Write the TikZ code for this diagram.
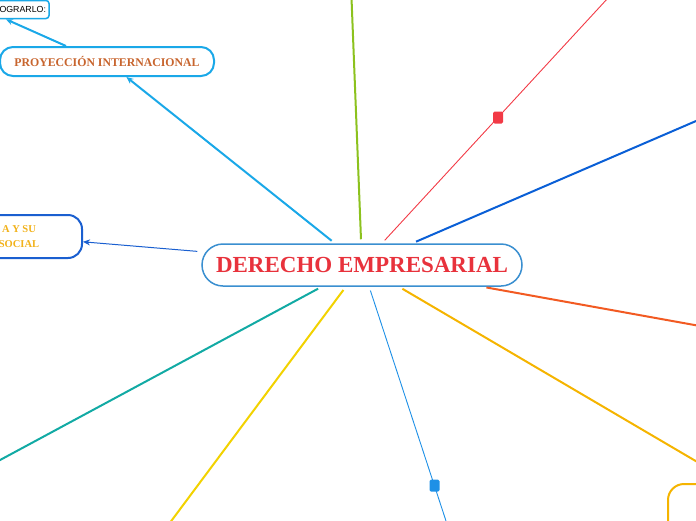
\documentclass[tikz,border=0pt]{standalone}
\usepackage{fontspec}
\setmainfont{Liberation Serif}
\setsansfont{Liberation Sans}
\usetikzlibrary{arrows.meta}
\definecolor{cbord}{HTML}{3A8FD0}
\definecolor{ctext}{HTML}{E8323C}
\definecolor{pblue}{HTML}{1AA8E8}
\definecolor{ptext}{HTML}{C8652E}
\definecolor{lblue}{HTML}{1A5FD0}
\definecolor{ltext}{HTML}{F2B21A}
\definecolor{cgreen}{HTML}{8CC21E}
\definecolor{cred}{HTML}{F23A46}
\definecolor{cdblue}{HTML}{0A5FD6}
\definecolor{corange}{HTML}{F25A22}
\definecolor{cyorange}{HTML}{F5B400}
\definecolor{clblue}{HTML}{1E90E6}
\definecolor{cyellow}{HTML}{F2D200}
\definecolor{cteal}{HTML}{12AAA4}
\tikzset{
  branch/.style={line width=2pt, shorten <=4pt},
  thinbranch/.style={line width=0.9pt, shorten <=4pt},
  arr/.style={-{Stealth[length=7pt,width=6pt]}},
  marker/.style={rectangle, rounded corners=1.5pt, minimum width=10pt, minimum height=12pt, inner sep=0pt},
}
\begin{document}
\begin{tikzpicture}[x=1pt,y=-1pt]
\useasboundingbox (0,0) rectangle (696,520);
\clip (0,0) rectangle (696,520);
% nodes
\node[draw=cbord, line width=1.5pt, rounded corners=21pt, minimum width=320pt, minimum height=42pt, inner sep=0pt, fill=white,
      text=ctext, font=\bfseries\fontsize{23}{26}\selectfont] (c) at (362,265) {DERECHO EMPRESARIAL};
\node[draw=pblue, line width=2pt, rounded corners=13pt, minimum width=214pt, minimum height=29pt, inner sep=0pt, fill=white,
      text=ptext, font=\bfseries\fontsize{11.8}{14}\selectfont] (p) at (107,61.5) {PROYECCIÓN INTERNACIONAL};
\node[draw=pblue, line width=1.5pt, rounded corners=3pt, minimum height=18pt, text width=124pt, align=right, inner xsep=3pt, inner ysep=0pt, fill=white,
      font=\sffamily\fontsize{8.8}{10}\selectfont] (b) at (-16,9.5) {OGRARLO:};
\node[draw=lblue, line width=2pt, rounded corners=14pt, minimum width=126pt, minimum height=43pt, inner sep=0pt, fill=white,
      text=ltext, align=center, font=\bfseries\fontsize{10.5}{15}\selectfont] (L) at (19,236.5) {A Y SU\\SOCIAL};
\node[draw=cyorange, line width=2pt, rounded corners=16pt, minimum width=222pt, minimum height=52pt, fill=white] (R) at (779,510) {};
% free ends
\coordinate (eg) at (351.5,-2);
\coordinate (er) at (608,-2);
\coordinate (edb) at (700,119.3);
\coordinate (eo) at (700,326);
\coordinate (elb) at (447,524);
\coordinate (ey) at (169,524);
\coordinate (et) at (-4,462.2);
% connectors
\draw[branch, cgreen] (c) -- (eg);
\draw[thinbranch, cred] (c) -- (er);
\draw[branch, cdblue] (c) -- (edb);
\draw[branch, corange] (c) -- (eo);
\draw[branch, cyorange] (c) -- (R);
\draw[thinbranch, clblue] (c) -- (elb);
\draw[branch, cyellow] (c) -- (ey);
\draw[branch, cteal] (c) -- (et);
\draw[branch, pblue, arr] (c) -- (p);
\draw[line width=1pt, lblue, arr, shorten <=4pt] (c) -- (L);
\draw[line width=2pt, pblue, arr] ([xshift=-41pt]p.north) -- (b);
% markers
\node[marker, fill=cred] (mr) at (498,117.5) {};
\node[marker, fill=clblue] (mb) at (434.5,485.5) {};
\end{tikzpicture}
\end{document}
